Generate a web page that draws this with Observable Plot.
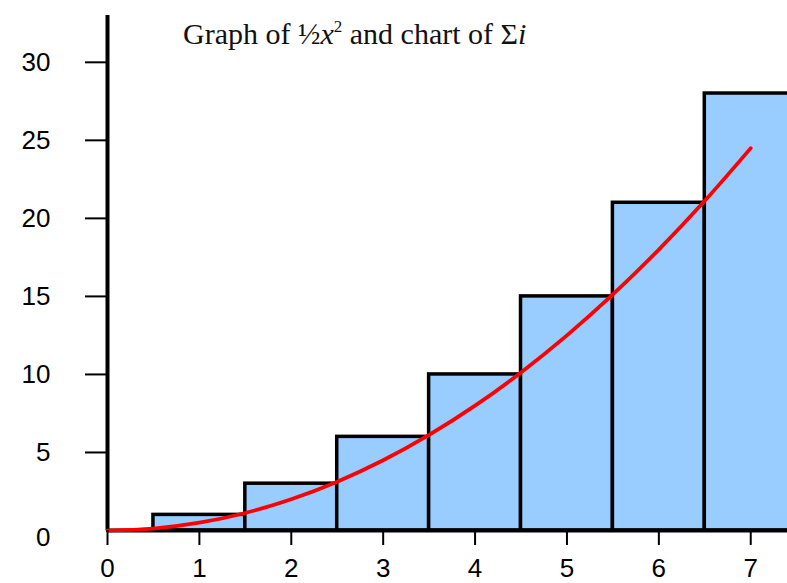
<!DOCTYPE html>
<html><head><meta charset="utf-8">
<script src="https://cdn.jsdelivr.net/npm/d3@7"></script>
<script src="https://cdn.jsdelivr.net/npm/@observablehq/plot@0.6"></script>
<style>body{margin:0;overflow:hidden;background:#fff}</style>
</head><body><div id="chart"></div>
<script>
// Bars: running sum Σi for i = 1..7
const barX = [1, 2, 3, 4, 5, 6, 7];
const barSum = [1, 3, 6, 10, 15, 21, 28];
// Curve ½x² sampled points
const curveX = [0, 0.5, 1, 1.5, 2, 2.5, 3, 3.5, 4, 4.5, 5, 5.5, 6, 6.5, 7];
const curveY = [0, 0.125, 0.5, 1.125, 2, 3.125, 4.5, 6.125, 8, 10.125, 12.5, 15.125, 18, 21.125, 24.5];
const xTicks = [0, 1, 2, 3, 4, 5, 6, 7];
const yTicks = [5, 10, 15, 20, 25, 30];
const yZeroTick = [0];

const bars = barX.map((x, i) => ({x1: x - 0.5, x2: x + 0.5, y: barSum[i]}));
const curve = curveX.map((x, i) => ({x, y: curveY[i]}));

const plot = Plot.plot({
  width: 787,
  height: 583,
  marginLeft: 107,
  marginRight: 0,
  marginTop: 15,
  marginBottom: 53,
  style: {fontFamily: "'Liberation Sans', Arial, sans-serif", fontSize: "26px", background: "#fff", overflow: "hidden"},
  x: {domain: [0, 7.4]},
  y: {domain: [0, 33]},
  marks: [
    Plot.rect(bars, {x1: "x1", x2: "x2", y1: 0, y2: "y", fill: "#99ccff", stroke: "black", strokeWidth: 3.5, clip: true}),
    Plot.ruleY([0], {stroke: "black", strokeWidth: 4}),
    Plot.ruleX([0], {y1: 0, y2: 33, stroke: "black", strokeWidth: 4}),
    Plot.line(curve, {x: "x", y: "y", stroke: "red", strokeWidth: 3.75, curve: "catmull-rom"}),
    Plot.axisX({ticks: xTicks, tickSize: 15, tickPadding: 13, tickFormat: d => String(d), strokeWidth: 2, label: null, fontSize: 26, fill: "black"}),
    Plot.axisY({ticks: yTicks, tickSize: 22, tickPadding: 35, tickFormat: d => String(d), strokeWidth: 2, label: null, fontSize: 26, fill: "black"}),
    Plot.axisY({ticks: yZeroTick, tickSize: 0, tickPadding: 57, tickFormat: d => String(d), label: null, fontSize: 26, fill: "black", dy: 7})
  ]
});
document.getElementById("chart").appendChild(plot);

// Title
const svg = d3.select(plot);
const t = svg.append("text")
  .attr("x", 183).attr("y", 44)
  .attr("text-anchor", "start")
  .attr("font-family", "'Liberation Serif', 'Times New Roman', serif")
  .attr("font-size", 30)
  .attr("fill", "#111");
t.append("tspan").text("Graph of ½");
t.append("tspan").attr("font-style", "italic").text("x");
t.append("tspan").attr("font-size", 17).attr("dy", -12).text("2");
t.append("tspan").attr("dy", 12).text(" and chart of Σ");
t.append("tspan").attr("font-style", "italic").text("i");
</script>
</body></html>
